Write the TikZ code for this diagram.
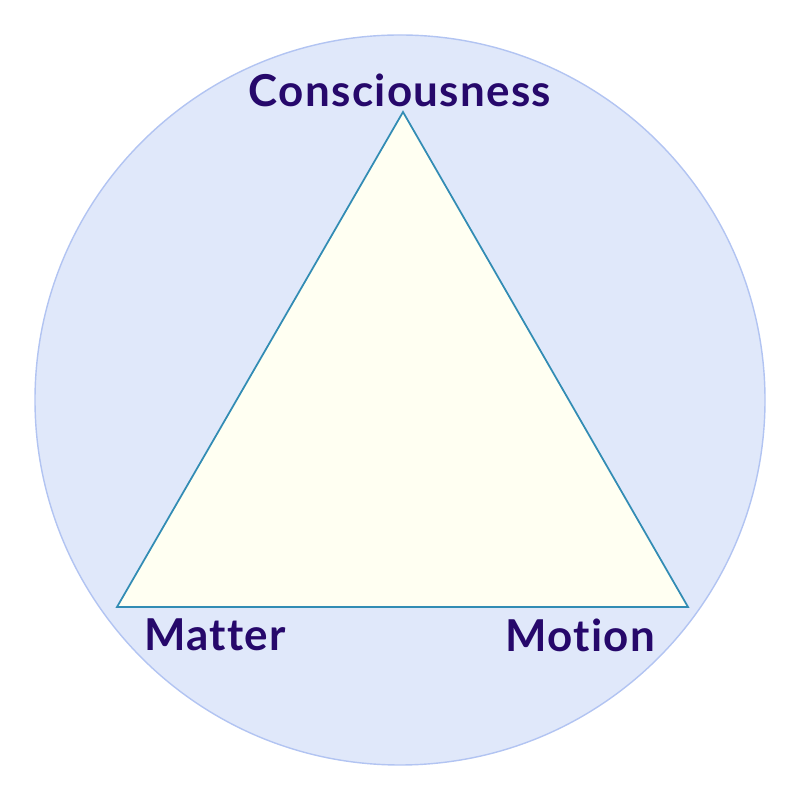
\documentclass[tikz,border=0pt]{standalone}
\usepackage{fontspec}
\setmainfont{Lato}
\newfontfamily\labelfont[LetterSpace=3,Ligatures=NoCommon]{Lato}
\definecolor{discblue}{RGB}{224,232,250}
\definecolor{discedge}{RGB}{178,196,242}
\definecolor{paleyellow}{RGB}{255,255,242}
\definecolor{edgeteal}{RGB}{50,140,180}
\definecolor{inkpurple}{RGB}{38,8,107}
\usetikzlibrary{positioning}

\begin{document}
\begin{tikzpicture}[
        label/.style={text=inkpurple,font=\labelfont\bfseries\fontsize{12.5}{14}\selectfont,inner sep=0pt}]
      \useasboundingbox (0,0) rectangle (8,8);
      \fill[discblue,draw=discedge,line width=0.4pt] (4,4) circle (3.65);
      % triangle corners
      \coordinate (top) at (4.03,6.88);
      \coordinate (left) at (1.17,1.93);
      \coordinate (right) at (6.88,1.93);
      \filldraw[fill=paleyellow,draw=edgeteal,line width=0.5pt]
        (top) -- (left) -- (right) -- cycle;
      \node[label] (consc) at (4.00,7.10) {Consciousness};
      \node[label] (matter) at (2.15,1.65) {Matter};
      \node[label] (motion) at (5.80,1.65) {Motion};
    \end{tikzpicture}
\end{document}
